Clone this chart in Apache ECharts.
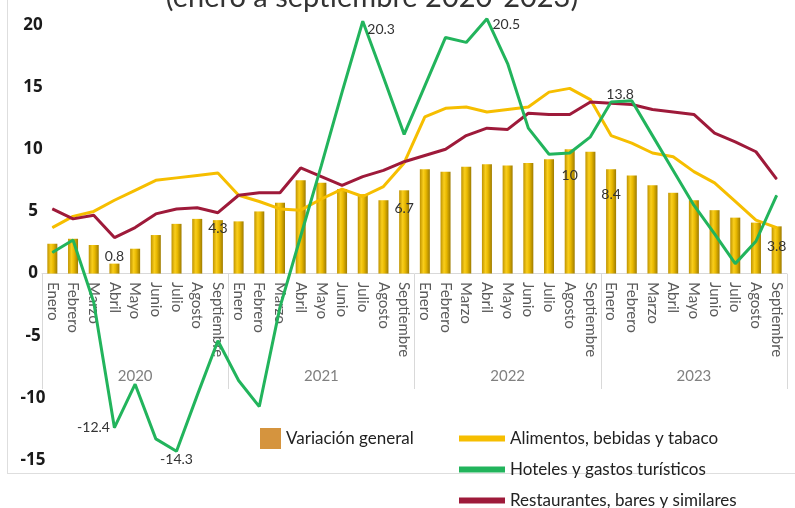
<!DOCTYPE html>
<html>
<head>
<meta charset="utf-8">
<script src="https://cdn.jsdelivr.net/npm/echarts@6/dist/echarts.min.js"></script>
<style>
  html, body { margin: 0; padding: 0; background: #fff; }
  #chart { width: 795px; height: 508px; }
</style>
</head>
<body>
<div id="chart"></div>
<script>
// categorias
var meses = ['Enero','Febrero','Marzo','Abril','Mayo','Junio','Julio','Agosto','Septiembre'];
var anios = ['2020','2021','2022','2023'];

// series (variacion %)
var general = [2.4,2.8,2.3,0.8,2.0,3.1,4.0,4.4,4.3,
               4.2,5.0,5.7,7.5,7.3,6.8,6.4,5.9,6.7,
               8.4,8.2,8.6,8.8,8.7,8.9,9.2,10.0,9.8,
               8.4,7.9,7.1,6.5,5.9,5.1,4.5,4.1,3.8];
var alimentos = [3.7,4.6,5.0,5.9,6.7,7.5,7.7,7.9,8.1,
                 6.3,5.8,5.2,5.1,6.0,6.8,6.2,7.0,8.9,
                 12.6,13.3,13.4,13.0,13.2,13.4,14.6,14.9,14.0,
                 11.1,10.5,9.7,9.4,8.2,7.3,5.8,4.3,3.7];
var hoteles = [1.7,2.7,-2.3,-12.4,-8.9,-13.3,-14.3,-9.8,-5.4,
               -8.6,-10.7,-2.7,3.0,8.7,14.6,20.3,15.8,11.2,
               15.1,19.0,18.6,20.5,16.9,11.7,9.6,9.7,11.0,
               13.8,13.9,11.1,8.3,5.5,3.2,0.8,2.6,6.3];
var restaurantes = [5.2,4.4,4.7,2.9,3.7,4.8,5.2,5.3,4.9,
                    6.3,6.5,6.5,8.5,7.8,7.1,7.8,8.3,9.0,
                    9.5,10.0,11.1,11.7,11.6,12.9,12.8,12.8,13.8,
                    13.7,13.6,13.2,13.0,12.8,11.3,10.6,9.8,7.6];
var yTicks = [-15, 20, 5];

var categorias = [];
anios.forEach(function (a) {
    meses.forEach(function (m) { categorias.push(m); });
});

// etiquetas de datos (posiciones)
var barLabels = {
    3:  { position: 'top', distance: 0 },
    8:  { position: 'insideTop', distance: 1 },
    17: { position: 'insideTop', distance: 11 },
    25: { position: 'insideTop', distance: 19 },
    27: { position: 'insideTop', distance: 18 },
    35: { position: 'insideTop', distance: 13 }
};
var hotelLabels = {
    3:  { position: 'left', distance: 4 },
    6:  { position: 'bottom', distance: 1 },
    15: { position: 'right', distance: 4, offset: [0, 8] },
    21: { position: 'right', distance: 5, offset: [0, 6] },
    27: { position: 'top', distance: 0, offset: [9, 0] }
};

var labelFont = { show: true, color: '#333', fontFamily: 'Lato', fontSize: 14 };

function withLabels(arr, cfg) {
    return arr.map(function (v, i) {
        if (!cfg[i]) return v;
        return { value: v, label: Object.assign({}, labelFont, cfg[i]) };
    });
}

var myChart = echarts.init(document.getElementById('chart'));
var option = {
    animation: false,
    backgroundColor: '#fff',
    graphic: [
        { type: 'text', x: 372, y: -2, style: { text: '(enero a septiembre 2020-2023)', font: '29px Lato', fill: '#333', align: 'center', textAlign: 'center', verticalAlign: 'middle' } },
        { type: 'line', shape: { x1: 7.5, y1: 0, x2: 7.5, y2: 473 }, style: { stroke: '#dedede', lineWidth: 1 } },
        { type: 'line', shape: { x1: 7, y1: 473.5, x2: 795, y2: 473.5 }, style: { stroke: '#dedede', lineWidth: 1 } }
    ],
    legend: [
        {
            left: 255, top: 423,
            itemWidth: 21, itemHeight: 21,
            textStyle: { fontFamily: 'Lato', fontSize: 17, color: '#222' },
            data: [{ name: 'Variación general', icon: 'rect', itemStyle: { color: '#D5943E' } }]
        },
        {
            left: 454, top: 423, orient: 'vertical', height: 120,
            itemWidth: 46, itemHeight: 6, itemGap: 10,
            textStyle: { fontFamily: 'Lato', fontSize: 17, color: '#222', lineHeight: 21 },
            data: [
                { name: 'Alimentos, bebidas y tabaco', icon: 'rect' },
                { name: 'Hoteles y gastos turísticos', icon: 'rect' },
                { name: 'Restaurantes, bares y similares', icon: 'rect' }
            ]
        }
    ],
    grid: [
        { left: 42, right: 8, top: 25, bottom: 48, outerBoundsMode: 'none', containLabel: false },
        { left: 42, right: 8, top: 274, height: 115, outerBoundsMode: 'none', containLabel: false }
    ],
    xAxis: [
        {
            type: 'category',
            data: categorias,
            gridIndex: 0,
            axisLine: { lineStyle: { color: '#d9d9d9' } },
            axisTick: { show: false },
            axisLabel: { show: false }
        },
        {
            type: 'category',
            data: anios,
            gridIndex: 1,
            position: 'bottom',
            axisLine: { show: false },
            axisTick: { show: false },
            splitLine: { show: true, lineStyle: { color: '#d9d9d9' } },
            axisLabel: { inside: true, margin: 5, fontFamily: 'Lato', fontSize: 15, color: '#808080' }
        },
        {
            type: 'category',
            data: categorias,
            gridIndex: 1,
            position: 'top',
            axisLine: { show: false },
            axisTick: { show: false },
            axisLabel: { inside: true, rotate: 90, interval: 0, margin: 8, fontFamily: 'Lato', fontSize: 15, color: '#5a5a5a' }
        }
    ],
    yAxis: [
        {
            type: 'value',
            gridIndex: 0,
            min: yTicks[0], max: yTicks[1], interval: yTicks[2],
            axisLine: { show: false },
            axisTick: { show: false },
            splitLine: { show: false },
            axisLabel: { align: 'center', margin: 9, fontFamily: 'Open Sans', fontWeight: 'bold', fontSize: 17, color: '#1a1a1a' }
        },
        { type: 'value', gridIndex: 1, show: false }
    ],
    series: [
        {
            name: 'Variación general',
            type: 'bar',
            barWidth: 10,
            data: withLabels(general, barLabels),
            itemStyle: {
                color: new echarts.graphic.LinearGradient(0, 0, 1, 0, [
                    { offset: 0, color: '#BF9300' },
                    { offset: 0.35, color: '#F9CE1C' },
                    { offset: 0.6, color: '#E8B800' },
                    { offset: 1, color: '#9E7B00' }
                ])
            }
        },
        {
            name: 'Alimentos, bebidas y tabaco',
            type: 'line',
            color: '#F6BE00',
            symbol: 'circle', symbolSize: 1, showAllSymbol: true,
            lineStyle: { width: 3, color: '#F6BE00' },
            data: alimentos
        },
        {
            name: 'Restaurantes, bares y similares',
            type: 'line',
            color: '#9E1A3A',
            symbol: 'circle', symbolSize: 1, showAllSymbol: true,
            lineStyle: { width: 3, color: '#9E1A3A' },
            data: restaurantes
        },
        {
            name: 'Hoteles y gastos turísticos',
            type: 'line',
            color: '#22B45C',
            clip: false,
            symbol: 'circle', symbolSize: 1, showAllSymbol: true,
            lineStyle: { width: 3, color: '#22B45C' },
            data: withLabels(hoteles, hotelLabels)
        }
    ]
};
myChart.setOption(option);
</script>
</body>
</html>
